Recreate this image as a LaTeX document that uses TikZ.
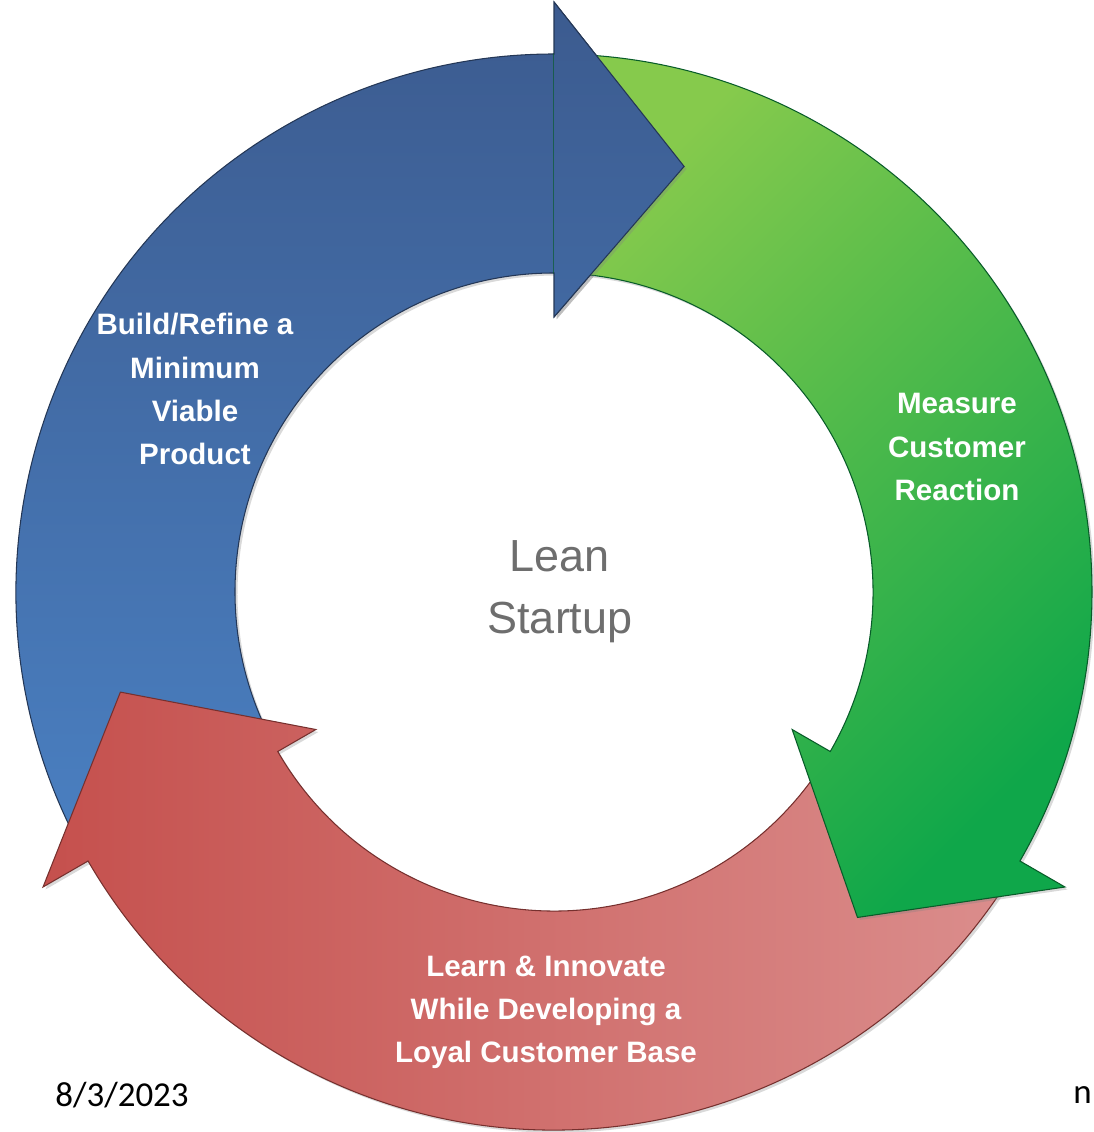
\documentclass[tikz,border=0pt]{standalone}
\usepackage{fontspec}
\setmainfont{Liberation Sans}
\newfontfamily\datefont{Carlito}
\usepackage{tikz}
\usetikzlibrary{shadows}

\definecolor{buildtop}{HTML}{3C5B8F}
\definecolor{buildbot}{HTML}{4A80C2}
\definecolor{measuretop}{HTML}{86CA4C}
\definecolor{measurebot}{HTML}{0FA74A}
\definecolor{learnleft}{HTML}{C5504D}
\definecolor{learnright}{HTML}{DB8E8D}
\definecolor{hubgray}{HTML}{6E6E6E}

\begin{document}
\begin{tikzpicture}
[
	x = 0.02cm, y = 0.02cm,
	arrowbody/.style	= {line width = 0.6pt, drop shadow = {opacity = 0.3, shadow xshift = 0.05cm, shadow yshift = -0.05cm}},
	buildarrow/.style	= {arrowbody, draw = buildtop!60!black, top color = buildtop, bottom color = buildbot},
	measurearrow/.style	= {arrowbody, draw = measurebot!55!black, top color = measuretop, bottom color = measurebot, shading angle = 45},
	learnarrow/.style	= {arrowbody, draw = learnleft!60!black, left color = learnleft, right color = learnright},
	stage/.style	= {align = center, text = white, font = \bfseries\fontsize{16.8}{24.5}\selectfont},
	hub/.style	= {align = center, text = hubgray, font = \fontsize{25.6}{35.3}\selectfont},
	footer/.style	= {inner sep = 0pt, font = \datefont\fontsize{19.9}{24}\selectfont},
]

	\useasboundingbox (-554, -540) rectangle (540, 592);

	% build, then learn over its tail, then measure over the learn tail
	\path [buildarrow] (210:538) arc [start angle = 210, end angle = 90, radius = 538]
		-- (90:590) -- (73:445) -- (90:275) -- (90:319)
		arc [start angle = 90, end angle = 210, radius = 319] -- cycle;
	\path [learnarrow] (-30:538) arc [start angle = -30, end angle = -150, radius = 538]
		-- (-150:590) -- (-167:445) -- (-150:275) -- (-150:319)
		arc [start angle = -150, end angle = -30, radius = 319] -- cycle;
	\path [measurearrow] (90:538) arc [start angle = 90, end angle = -30, radius = 538]
		-- (-30:590) -- (-47:445) -- (-30:275) -- (-30:319)
		arc [start angle = -30, end angle = 90, radius = 319] -- cycle;
	%
	% blue head once more, over the green tail
	\begin{scope}
		\clip (0, 0) rectangle (560, 620);
		\path [buildarrow] (210:538) arc [start angle = 210, end angle = 90, radius = 538]
			-- (90:590) -- (73:445) -- (90:275) -- (90:319)
			arc [start angle = 90, end angle = 210, radius = 319] -- cycle;
	\end{scope}

	\node (build) [stage] at (-359, 203) {Build/Refine a\\Minimum\\Viable\\Product};
	\node (measure) [stage] at (403, 145) {Measure\\Customer\\Reaction};
	\node (learn) [stage] at (-8, -420) {Learn \& Innovate\\While Developing a\\Loyal Customer Base};
	\node (lean) [hub] at (6, 0) {Lean\\Startup};
	%
	\node (date) [footer, anchor = west] at (-499, -503) {8/3/2023};
	\node (pagen) [footer, anchor = east] at (538, -503) {n};

\end{tikzpicture}
\end{document}
